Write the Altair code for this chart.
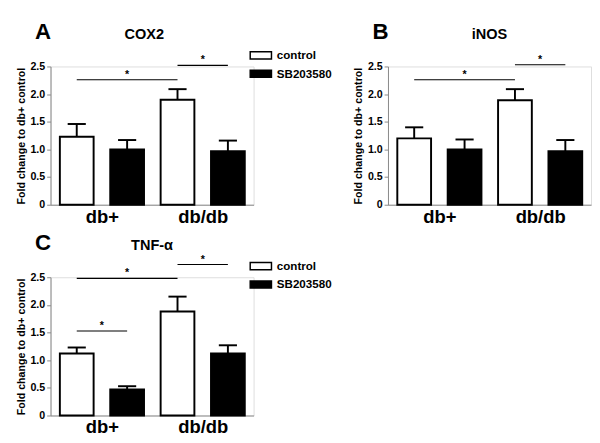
import altair as alt
import pandas as pd

FONT = "Liberation Sans"

groups = ["db+", "db/db"]
series = ["control", "SB203580"]

# bar order: db+ control, db+ SB203580, db/db control, db/db SB203580
cox2_mean = [1.23, 1.00, 1.90, 0.97]
cox2_err = [0.23, 0.17, 0.19, 0.19]
inos_mean = [1.20, 1.00, 1.89, 0.97]
inos_err = [0.20, 0.18, 0.20, 0.20]
tnf_mean = [1.12, 0.47, 1.88, 1.12]
tnf_err = [0.11, 0.06, 0.27, 0.15]

# significance brackets: (group A, series A, group B, series B, level)
cox2_sig = [("db+", "control", "db/db", "control", 2.26),
            ("db/db", "control", "db/db", "SB203580", 2.52)]
inos_sig = [("db+", "control", "db/db", "control", 2.26),
            ("db/db", "control", "db/db", "SB203580", 2.53)]
tnf_sig = [("db+", "control", "db/db", "control", 2.48),
           ("db/db", "control", "db/db", "SB203580", 2.73),
           ("db+", "control", "db+", "SB203580", 1.53)]

y_ticks = [0, 0.5, 1.0, 1.5, 2.0, 2.5]


def idx_of(g, s):
    return groups.index(g) * len(series) + series.index(s)


def bar_frame(means, errs):
    rows = []
    k = 0
    for g in groups:
        for s in series:
            rows.append({"group": g, "series": s, "mean": means[k], "err": errs[k],
                         "idx": idx_of(g, s)})
            k += 1
    return pd.DataFrame(rows)


def sig_frame(sig):
    return pd.DataFrame([{"a": idx_of(ga, sa), "b": idx_of(gb, sb), "level": lv}
                         for ga, sa, gb, sb, lv in sig])


xscale = alt.Scale(domain=[-0.52, 3.51], nice=False, zero=False, padding=0)
yscale = alt.Scale(domain=[0, 2.5], nice=False, zero=True, padding=0)
label_expr = "datum.value < 1.5 ? '%s' : '%s'" % (groups[0], groups[1])

x_axis = alt.Axis(values=[0.5, 2.5], labelExpr=label_expr, ticks=False,
                  labelFont=FONT, labelFontWeight="bold",
                  labelFontSize=19, labelPadding=3, grid=False, labelOverlap=False)
y_axis = alt.Axis(values=y_ticks, tickCount=6,
                  labelExpr="datum.value == 0 ? '0' : format(datum.value, '.1f')",
                  labelFont=FONT, labelFontWeight="bold",
                  titleFont=FONT, titleFontWeight="bold",
                  labelFontSize=11, tickSize=4, titleFontSize=11,
                  titlePadding=4, grid=False, labelOverlap=False)
Y_TITLE = "Fold change to db+ control"


def panel(letter, name, means, errs, sig, show_legend, title_dx=0):
    df = bar_frame(means, errs)
    sdf = sig_frame(sig)
    base = alt.Chart(df)

    if show_legend:
        legend = alt.Legend(orient="none", legendX=209, legendY=-20, title=None,
                            symbolType="M-1.5,-0.5H1.5V0.5H-1.5Z", symbolSize=215,
                            symbolStrokeColor="black", symbolStrokeWidth=1.5,
                            labelFont=FONT, labelFontWeight="bold", labelFontSize=12,
                            labelColor="black", labelOffset=8, rowPadding=3)
    else:
        legend = None

    bars = base.transform_calculate(
        xa="datum.idx - 0.335", xb="datum.idx + 0.335"
    ).mark_bar(stroke="black", strokeWidth=2).encode(
        x=alt.X("xa:Q", scale=xscale, title=None, axis=x_axis),
        x2="xb:Q",
        y=alt.Y("mean:Q", scale=yscale, title=Y_TITLE, axis=y_axis),
        y2=alt.datum(0),
        fill=alt.Fill("series:N", scale=alt.Scale(domain=series, range=["white", "black"]),
                      legend=legend),
    )

    stem = base.transform_calculate(top="datum.mean + datum.err").mark_rule(
        color="black", strokeWidth=2).encode(
        x=alt.X("idx:Q", scale=xscale, title=None, axis=x_axis),
        y=alt.Y("mean:Q", scale=yscale, title=Y_TITLE, axis=y_axis), y2="top:Q")
    cap = base.transform_calculate(
        top="datum.mean + datum.err", ca="datum.idx - 0.18", cb="datum.idx + 0.18"
    ).mark_rule(color="black", strokeWidth=2).encode(
        x=alt.X("ca:Q", scale=xscale, title=None, axis=x_axis), x2="cb:Q",
        y=alt.Y("top:Q", scale=yscale, title=Y_TITLE, axis=y_axis))

    sigs = alt.Chart(sdf).mark_rule(color="black", strokeWidth=1.1).encode(
        x=alt.X("a:Q", scale=xscale, title=None, axis=x_axis), x2="b:Q",
        y=alt.Y("level:Q", scale=yscale, title=Y_TITLE, axis=y_axis))
    stars = alt.Chart(sdf).transform_calculate(mid="(datum.a + datum.b) / 2").mark_text(
        text="*", font=FONT, fontSize=11, fontWeight="bold", baseline="alphabetic", dy=-2,
        color="black").encode(
        x=alt.X("mid:Q", scale=xscale, title=None, axis=x_axis),
        y=alt.Y("level:Q", scale=yscale, title=Y_TITLE, axis=y_axis))

    labels = alt.Chart(pd.DataFrame({"t": [letter], "n": [name]}))
    letter_txt = labels.mark_text(
        font=FONT, fontSize=23, fontWeight="bold", align="left", baseline="alphabetic",
        color="black").encode(x=alt.value(-16), y=alt.value(-28), text="t:N")
    name_txt = labels.mark_text(
        font=FONT, fontSize=15, fontWeight="bold", align="center", baseline="alphabetic",
        color="black").encode(x=alt.value(105 + title_dx), y=alt.value(-28), text="n:N")

    return alt.layer(bars, stem, cap, sigs, stars, letter_txt, name_txt).properties(
        width=210, height=143,
    )


pA = panel("A", "COX2", cox2_mean, cox2_err, cox2_sig, True, title_dx=-8)
pB = panel("B", "iNOS", inos_mean, inos_err, inos_sig, False)
pC = panel("C", "TNF-\u03b1", tnf_mean, tnf_err, tnf_sig, True)

top = alt.hconcat(pA, pB, spacing=20).resolve_scale(fill="independent").resolve_legend(fill="independent")
chart = alt.vconcat(top, pC, spacing=5).resolve_scale(fill="independent").resolve_legend(
    fill="independent"
).properties(padding={"left": 7, "top": 6, "right": 0, "bottom": 0}).configure_view(
    stroke=None
).configure_axis(
    domainColor="black", domainWidth=1.5, tickColor="black", tickWidth=1.5,
    labelColor="black", titleColor="black",
).configure(background="white")

chart.save("out.html", embed_options={"renderer": "svg", "actions": False})
